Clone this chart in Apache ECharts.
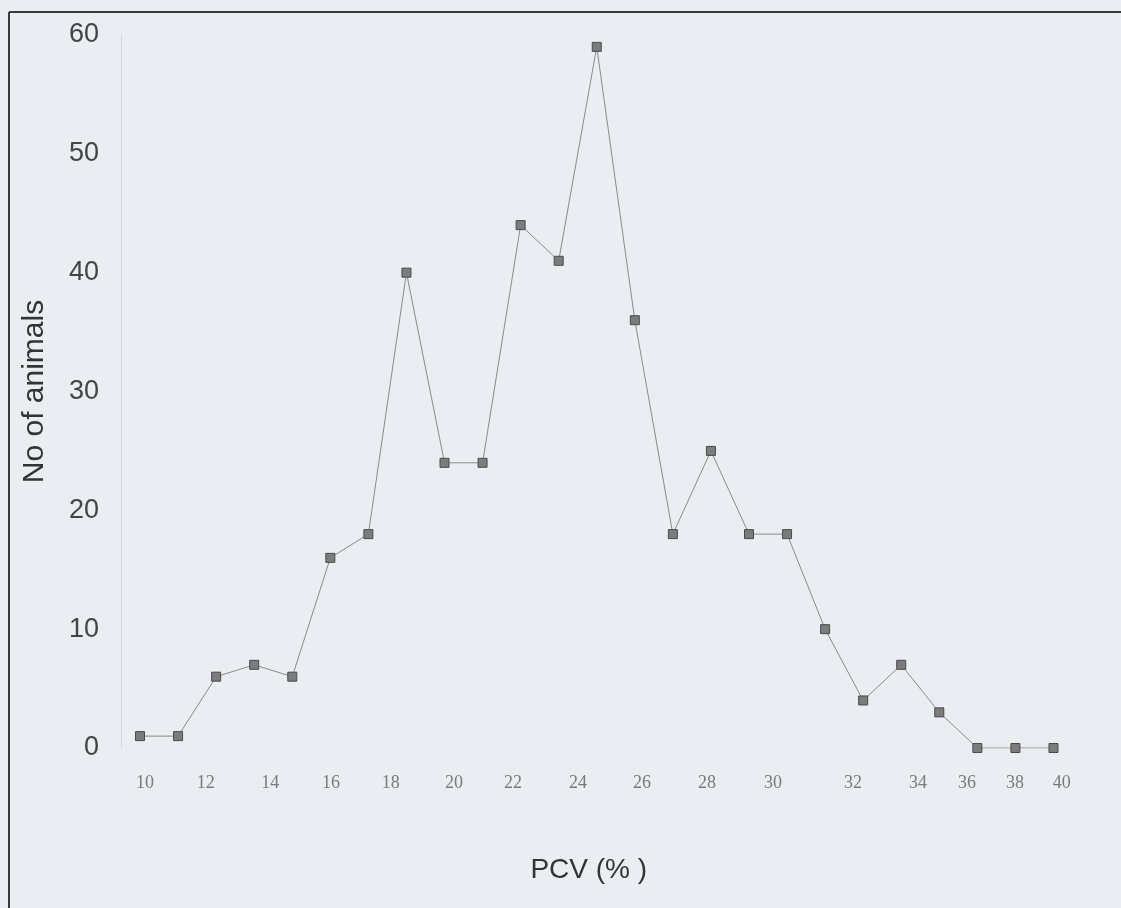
<!DOCTYPE html>
<html>
<head>
<meta charset="utf-8">
<script src="https://cdn.jsdelivr.net/npm/echarts@6/dist/echarts.min.js"></script>
<style>
  html, body { margin: 0; padding: 0; background: #eaedf2; }
  #chart { width: 1121px; height: 908px; }
</style>
</head>
<body>
<div id="chart"></div>
<script>
// Number of animals in each PCV class (25 evenly spaced classes)
const animalCounts = [1, 1, 6, 7, 6, 16, 18, 40, 24, 24, 44, 41, 59, 36, 18, 25, 18, 18, 10, 4, 7, 3, 0, 0, 0];
// PCV tick labels as printed under the axis
const pcvTickLabels = ['10', '12', '14', '16', '18', '20', '22', '24', '26', '28', '30', '32', '34', '36', '38', '40'];
// where each printed tick label sits, in class-index units
const pcvTickAt = [0.13, 1.73, 3.42, 5.02, 6.59, 8.25, 9.80, 11.51, 13.19, 14.90, 16.63, 18.73, 20.44, 21.73, 22.99, 24.22];
const yTicks = [0, 10, 20, 30, 40, 50, 60];

const chart = echarts.init(document.getElementById('chart'), null, { renderer: 'canvas' });

const seriesData = animalCounts.map((v, i) => [i, v]);

const option = {
  backgroundColor: '#eaedf2',
  animation: false,
  grid: { left: 121, right: 48.5, top: 35, bottom: 160, containLabel: false },
  xAxis: {
    type: 'value',
    min: -0.5,
    max: animalCounts.length - 0.5,
    name: 'PCV (% )',
    nameLocation: 'middle',
    nameGap: 108,
    nameTextStyle: { fontFamily: 'Liberation Sans, Arial, sans-serif', fontSize: 28, color: '#333', padding: [0, 16, 0, 0] },
    axisLine: { show: false },
    axisTick: { show: false },
    splitLine: { show: false },
    axisLabel: {
      customValues: pcvTickAt,
      margin: 26,
      fontFamily: 'Liberation Serif, Times New Roman, serif',
      fontSize: 18,
      color: '#7a7a7a',
      formatter: function (v) {
        let best = 0, bd = Infinity;
        pcvTickAt.forEach((p, k) => { const d = Math.abs(p - v); if (d < bd) { bd = d; best = k; } });
        return pcvTickLabels[best];
      }
    }
  },
  yAxis: {
    type: 'value',
    min: yTicks[0],
    max: yTicks[yTicks.length - 1],
    interval: 10,
    name: 'No of animals',
    nameLocation: 'middle',
    nameRotate: 90,
    nameGap: 71,
    nameTextStyle: { fontFamily: 'Liberation Sans, Arial, sans-serif', fontSize: 30, color: '#333' },
    axisLine: { show: true, onZero: false, lineStyle: { color: '#d3d6dc', width: 1 } },
    axisTick: { show: false },
    splitLine: { show: false },
    axisLabel: {
      margin: 22,
      fontFamily: 'Liberation Sans, Arial, sans-serif',
      fontSize: 27,
      color: '#444'
    }
  },
  graphic: [
    { type: 'line', shape: { x1: 9, y1: 12, x2: 1121, y2: 12 }, style: { stroke: '#3a3a3a', lineWidth: 2 } },
    { type: 'line', shape: { x1: 9, y1: 12, x2: 9, y2: 908 }, style: { stroke: '#3a3a3a', lineWidth: 2 } }
  ],
  series: [{
    type: 'line',
    data: seriesData,
    symbol: 'rect',
    symbolSize: 9,
    itemStyle: { color: '#7c7c7c', borderColor: '#4a4a4a', borderWidth: 1 },
    lineStyle: { color: '#8a8a8a', width: 1 },
    emphasis: { disabled: true }
  }]
};

chart.setOption(option);
</script>
</body>
</html>
